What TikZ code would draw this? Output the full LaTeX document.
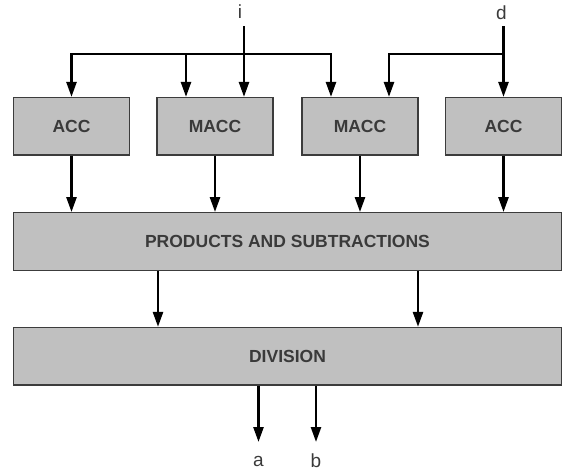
\documentclass[tikz,border=0pt]{standalone}
\usepackage{fontspec}
\setmainfont{Liberation Sans}
\usetikzlibrary{arrows.meta}
\definecolor{boxfill}{HTML}{C0C0C0}
\definecolor{boxline}{HTML}{3C3C3C}
\definecolor{labeltext}{HTML}{3A3A3A}
\tikzset{
  unit/.style={draw=boxline, line width=1.2pt, fill=boxfill,
    minimum width=116pt, minimum height=57.5pt, inner sep=0pt,
    text=labeltext, font=\bfseries\fontsize{17.5}{20}\selectfont},
  wide/.style={unit, minimum width=548pt},
  sig/.style={text=labeltext, font=\fontsize{19}{22}\selectfont, inner sep=0pt},
  wire/.style={line width=2.5pt, black, line join=miter},
  flow/.style={wire, -{Triangle[length=15pt,width=10pt]}}
}
\begin{document}
\begin{tikzpicture}[x=1pt,y=-1pt]
  \useasboundingbox (0,0) rectangle (568,474);

  % first row of units
  \node[unit] (acc1)  at (71.5,126.25)  {ACC};
  \node[unit] (macc1) at (215,126.25)   {MACC};
  \node[unit] (macc2) at (360,126.25)   {MACC};
  \node[unit] (acc2)  at (503.5,126.25) {ACC};

  % combining stages
  \node[wide] (prod) at (287.5,241.4) {PRODUCTS AND SUBTRACTIONS};
  \node[wide] (div)  at (287.5,356.2) {DIVISION};

  % inputs
  \node[sig] (in-i) at (240,12) {i};
  \node[sig] (in-d) at (501.5,13) {d};
  \coordinate (iTop) at (244,26);
  \coordinate (iBus) at (244,54);
  \coordinate (dTop) at (503.5,26);
  \coordinate (dBus) at (503.5,54);

  % bus for i
  \draw[wire] (iTop) -- (iBus);
  \draw[flow] (iBus) -| (acc1.north);
  \draw[flow] (iBus) -| ([xshift=-29pt]macc1.north);
  \draw[flow] (iBus) -- (macc1.north -| iBus);
  \draw[flow] (iBus) -| ([xshift=-29pt]macc2.north);

  % bus for d
  \draw[flow] (dTop) -- (acc2.north);
  \draw[flow] (dBus) -| ([xshift=29pt]macc2.north);

  % units into products
  \foreach \u in {acc1,macc1,macc2,acc2}
    \draw[flow] (\u.south) -- (\u.south |- prod.north);

  % products into division
  \draw[flow] ([xshift=-129.5pt]prod.south) -- ([xshift=-129.5pt]div.north);
  \draw[flow] ([xshift=130.5pt]prod.south) -- ([xshift=130.5pt]div.north);

  % outputs
  \node[sig] (out-a) at (258.5,461) {a};
  \node[sig] (out-b) at (316,461) {b};
  \coordinate (aEnd) at (258.5,442);
  \coordinate (bEnd) at (316,442);
  \draw[flow] (div.south -| aEnd) -- (aEnd);
  \draw[flow] (div.south -| bEnd) -- (bEnd);
\end{tikzpicture}
\end{document}
